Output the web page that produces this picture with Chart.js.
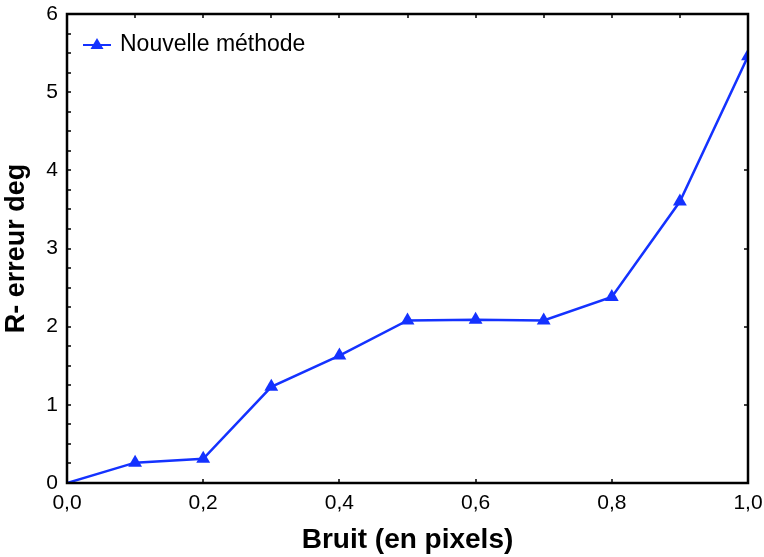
<!DOCTYPE html>
<html>
<head>
<meta charset="utf-8">
<script src="https://cdn.jsdelivr.net/npm/chart.js@4.4.1/dist/chart.umd.min.js"></script>
<style>
  html, body { margin: 0; padding: 0; background: #fff; }
  #wrap { width: 764px; height: 557px; }
</style>
</head>
<body>
<div id="wrap"><canvas id="errChart" width="764" height="557"></canvas></div>
<script>
// noise level (pixels) and rotation error (deg)
const bruit = [0.0, 0.1, 0.2, 0.3, 0.4, 0.5, 0.6, 0.7, 0.8, 0.9, 1.0];
const erreur = [0.0, 0.26, 0.31, 1.23, 1.63, 2.08, 2.09, 2.08, 2.38, 3.6, 5.46];
const seriesLabel = "Nouvelle méthode";
const xTitle = "Bruit (en pixels)";
const yTitle = "R- erreur deg";

const blue = "#1432ff";
const font = "'Liberation Sans', Arial, sans-serif";

// box around the plot + small inner ticks
const frame = {
  id: "frame",
  afterDatasetsDraw(chart) {
    const { ctx, chartArea: a, scales } = chart;
    ctx.save();
    ctx.strokeStyle = "#000";
    ctx.lineWidth = 1.5;
    ctx.beginPath();
    for (let v = 0; v <= 1.0001; v += 0.1) {
      const x = Math.round(scales.x.getPixelForValue(v));
      ctx.moveTo(x, a.top); ctx.lineTo(x, a.top + 4);
      if (Math.round(v * 10) % 2 === 0) { ctx.moveTo(x, a.bottom); ctx.lineTo(x, a.bottom - 4); }
    }
    for (let v = 0; v <= 6.0001; v += 0.25) {
      const y = Math.round(scales.y.getPixelForValue(v));
      ctx.moveTo(a.left, y); ctx.lineTo(a.left + 4, y);
      if (Math.abs(v - Math.round(v)) < 0.01) { ctx.moveTo(a.right, y); ctx.lineTo(a.right - 4, y); }
    }
    ctx.stroke();
    ctx.lineWidth = 2.5;
    ctx.strokeRect(a.left, a.top, a.right - a.left, a.bottom - a.top);

    // legend inside the plot
    const ly = a.top + 31;
    const lx = a.left + 16;
    ctx.strokeStyle = blue;
    ctx.fillStyle = blue;
    ctx.lineWidth = 2;
    ctx.beginPath();
    ctx.moveTo(lx, ly); ctx.lineTo(lx + 28, ly);
    ctx.stroke();
    ctx.beginPath();
    ctx.moveTo(lx + 14, ly - 7); ctx.lineTo(lx + 20.5, ly + 4); ctx.lineTo(lx + 7.5, ly + 4);
    ctx.closePath(); ctx.fill();
    ctx.fillStyle = "#000";
    ctx.font = "23px " + font;
    ctx.textBaseline = "middle";
    ctx.fillText(seriesLabel, lx + 37, ly);
    ctx.restore();
  }
};

new Chart(document.getElementById("errChart"), {
  type: "line",
  data: {
    datasets: [{
      label: seriesLabel,
      data: bruit.map((b, i) => ({ x: b, y: erreur[i] })),
      borderColor: blue,
      backgroundColor: blue,
      borderWidth: 2.5,
      pointStyle: "triangle",
      pointRadius: (c) => (c.dataIndex === 0 ? 0 : 8),
      pointBorderWidth: 0,
      tension: 0,
      clip: 0
    }]
  },
  options: {
    responsive: false,
    animation: false,
    layout: { padding: { top: 14, right: 16, left: 0, bottom: 0 } },
    plugins: { legend: { display: false }, tooltip: { enabled: false } },
    scales: {
      x: {
        type: "linear",
        min: 0, max: 1,
        grid: { display: false, drawTicks: false },
        border: { display: false },
        afterFit: (s) => { s.height = 74; s.paddingLeft = 0; s.paddingRight = 0; },
        ticks: {
          stepSize: 0.2,
          color: "#000",
          font: { family: font, size: 21 },
          padding: 8,
          callback: (v) => v.toFixed(1).replace(".", ",")
        },
        title: {
          display: true,
          text: xTitle,
          color: "#000",
          font: { family: font, size: 28, weight: "bold" },
          padding: { top: 2, bottom: 0 }
        }
      },
      y: {
        min: 0, max: 6,
        grid: { display: false, drawTicks: false },
        border: { display: false },
        afterFit: (s) => { s.width = 67; s.paddingTop = 0; s.paddingBottom = 0; },
        ticks: {
          stepSize: 1,
          color: "#000",
          font: { family: font, size: 21 },
          padding: 9
        },
        title: {
          display: true,
          text: yTitle,
          color: "#000",
          font: { family: font, size: 27, weight: "bold" },
          padding: { top: 0, bottom: 6 }
        }
      }
    }
  },
  plugins: [frame]
});
</script>
</body>
</html>
